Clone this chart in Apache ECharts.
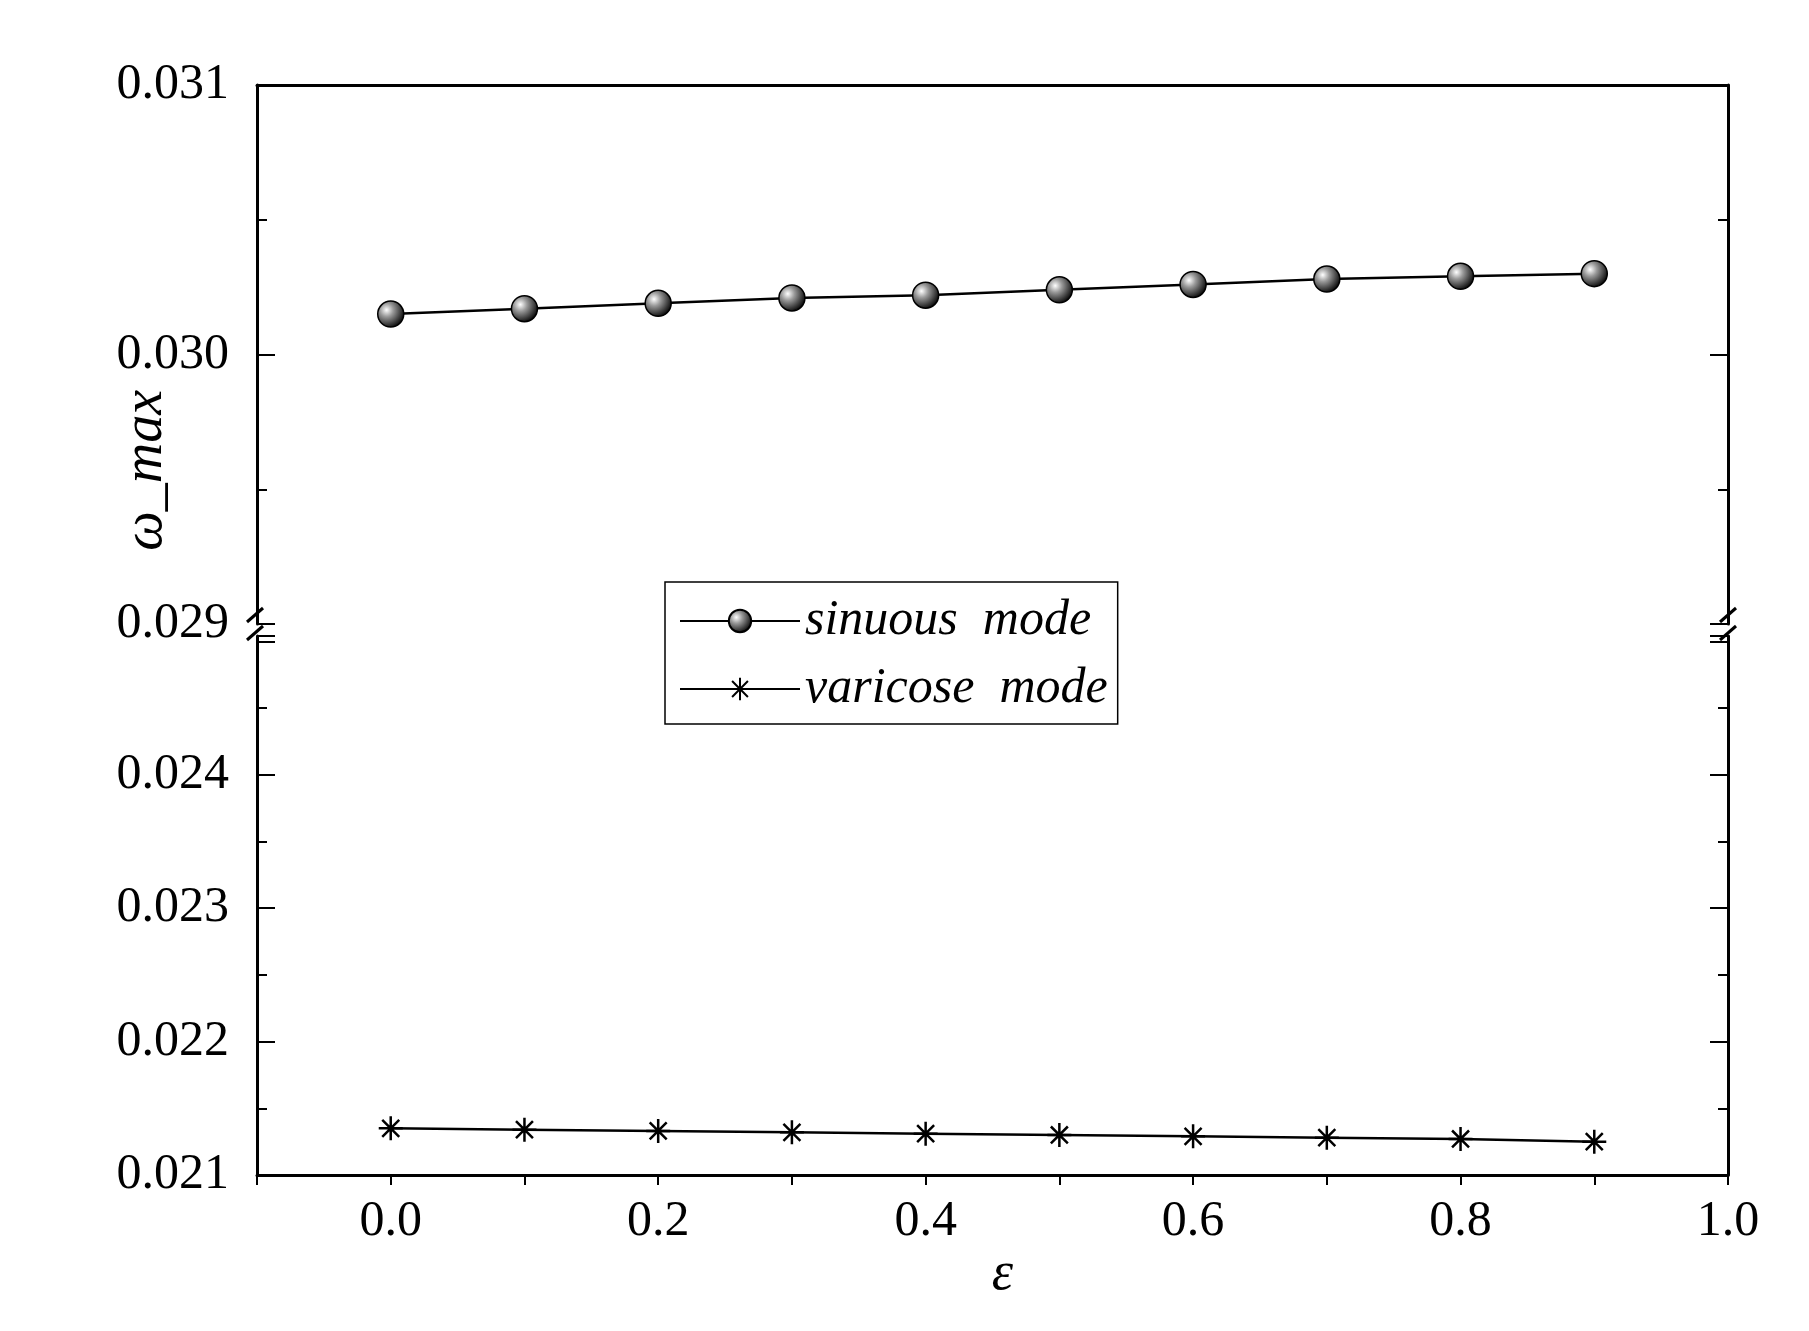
<!DOCTYPE html>
<html><head><meta charset="utf-8">
<script src="https://cdn.jsdelivr.net/npm/echarts@6/dist/echarts.min.js"></script>
<style>html,body{margin:0;background:#fff}#c{width:1809px;height:1331px}</style>
</head><body><div id="c"></div>
<script>
const eps = [0.0,0.1,0.2,0.3,0.4,0.5,0.6,0.7,0.8,0.9];
const sinuous = [0.03015,0.03017,0.03019,0.03021,0.03022,0.03024,0.03026,0.03028,0.03029,0.03030];
const varicose = [0.02135,0.02134,0.02133,0.02132,0.02131,0.02130,0.02129,0.02128,0.02127,0.02125];
const F = 'Liberation Serif';
const chart = echarts.init(document.getElementById('c'));
const L=257, R=81, T=85, H=539, T2=636;
const lab = {fontFamily:F,fontSize:50,color:'#000'};
const ax = {lineStyle:{color:'#000',width:3}};
function yA(grid,min,max,pos,labels){return {gridIndex:grid,type:'value',min,max,interval:0.001,position:pos,
 axisLine:{show:true,onZero:false,...ax},axisTick:{show:true,inside:true,length:18,lineStyle:{color:'#000',width:2}},
 minorTick:{show:true,splitNumber:2,length:10,lineStyle:{color:'#000',width:2}},
 splitLine:{show:false},axisLabel:{show:labels,...lab,margin:28,formatter:v=>(grid===1&&v>0.0245)?'':v.toFixed(3)}};}
const star='path://M0,-10L0,10M-10,0L10,0M-7.07,-7.07L7.07,7.07M-7.07,7.07L7.07,-7.07';
const ball={type:'radial',x:0.35,y:0.35,r:0.7,colorStops:[{offset:0,color:'#fff'},{offset:0.35,color:'#999'},{offset:1,color:'#000'}]};
chart.setOption({
 animation:false,
 grid:[{left:L,right:R,top:T,height:H},{left:L,right:R,top:T2,height:H}],
 xAxis:[
  {gridIndex:0,type:'value',min:-0.1,max:1.0,position:'top',axisLine:{show:true,onZero:false,...ax},axisTick:{show:false},axisLabel:{show:false},splitLine:{show:false}},
  {gridIndex:1,type:'value',min:-0.1,max:1.0,interval:0.1,position:'bottom',axisLine:{show:true,onZero:false,...ax},
   axisTick:{show:true,inside:false,length:10,lineStyle:{color:'#000',width:2}},splitLine:{show:false},
   axisLabel:{...lab,margin:22,formatter:v=>{const r=Math.round(v*10);return (r%2===0&&r>=0)?(r/10).toFixed(1):'';}},
   name:'ε',nameLocation:'middle',nameGap:68,nameTextStyle:{fontFamily:F,fontSize:54,fontStyle:'italic',padding:[0,0,0,20]}}
 ],
 yAxis:[yA(0,0.029,0.031,'left',true),yA(1,0.021,0.02504,'left',true),yA(0,0.029,0.031,'right',false),yA(1,0.021,0.02504,'right',false)],
 legend:{orient:'vertical',left:665,top:582,itemGap:18,padding:[14,10,10,14],borderColor:'#000',borderWidth:1.5,
  itemWidth:120,itemHeight:28,textStyle:{fontFamily:F,fontSize:50,fontStyle:'italic',color:'#000'},
  data:[{name:'sinuous  mode'},{name:'varicose  mode'}]},
 series:[
  {name:'sinuous  mode',type:'line',xAxisIndex:0,yAxisIndex:0,data:eps.map((e,i)=>[e,sinuous[i]]),
   symbol:'circle',symbolSize:26,lineStyle:{color:'#000',width:2.5},itemStyle:{color:ball,borderColor:'#000',borderWidth:1.5}},
  {name:'varicose  mode',type:'line',xAxisIndex:1,yAxisIndex:1,data:eps.map((e,i)=>[e,varicose[i]]),
   symbol:star,symbolSize:24,lineStyle:{color:'#000',width:2.5},itemStyle:{color:'none',borderColor:'#000',borderWidth:2.5}}
 ],
 graphic:[
  {type:'text',left:118,top:390,rotation:Math.PI/2,style:{text:'ω_max',font:'italic 56px "Liberation Serif"',fill:'#000'}},
  {type:'polyline',shape:{points:[[L-10,622],[L+6,608]]},style:{stroke:'#000',lineWidth:3}},
  {type:'polyline',shape:{points:[[L-10,640],[L+6,626]]},style:{stroke:'#000',lineWidth:3}},
  {type:'polyline',shape:{points:[[1809-R-8,622],[1809-R+8,608]]},style:{stroke:'#000',lineWidth:3}},
  {type:'polyline',shape:{points:[[1809-R-8,640],[1809-R+8,626]]},style:{stroke:'#000',lineWidth:3}}
 ]
});
</script></body></html>
